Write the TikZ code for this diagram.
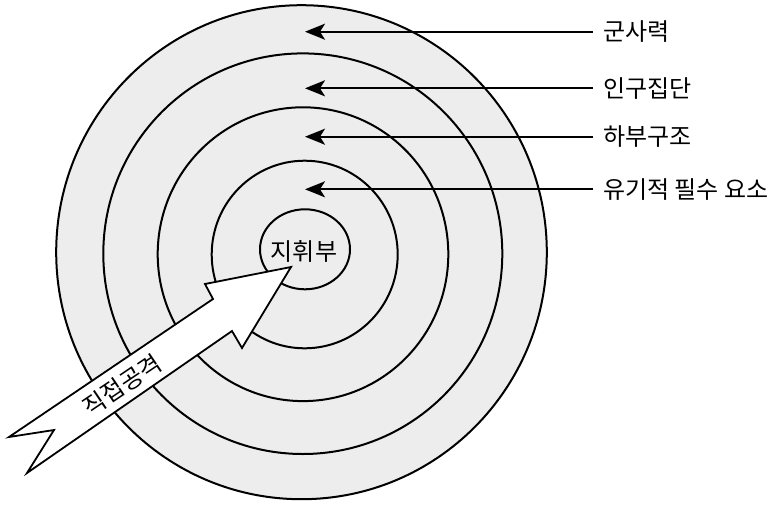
\documentclass[tikz,border=0pt]{standalone}
\usepackage{fontspec}
\setmainfont{Noto Sans CJK KR}
\usetikzlibrary{arrows.meta}
\begin{document}
\begin{tikzpicture}[x=1pt,y=-1pt,
  ring/.style={draw=black,line width=2pt},
  lab/.style={anchor=west,inner sep=0pt,font=\fontsize{24}{28}\selectfont},
  pointer/.style={line width=2pt,-{Stealth[length=20pt,width=16pt,inset=5pt]}},
  bigarrow/.style={draw=black,line width=1.8pt,fill=white,line join=miter},
  ]
\useasboundingbox (0,0) rectangle (779,504);
% target rings
\fill[gray!14] (301.5,252.2) ellipse[x radius=245.3,y radius=247];
\draw[ring] (301.5,252.2) ellipse[x radius=245.3,y radius=247];
\draw[ring] (302.8,253.7) ellipse[x radius=199.5,y radius=200.3];
\draw[ring] (303,254.2) ellipse[x radius=145.3,y radius=146.9];
\draw[ring] (304.7,254.5) ellipse[x radius=93,y radius=93.8];
\draw[ring] (305,249.3) ellipse[x radius=45,y radius=40];
% labels and pointers
\node[lab] (l1) at (603,31.7) {군사력};
\node[lab] (l2) at (603,88.3) {인구집단};
\node[lab] (l3) at (603,136.7) {하부구조};
\node[lab] (l4) at (603,189.3) {유기적 필수 요소};
\coordinate (t1) at (305,31.7);
\coordinate (t2) at (305,88.3);
\coordinate (t3) at (305,136.7);
\coordinate (t4) at (305,189.3);
\draw[pointer] ([xshift=-10pt]l1.west) -- (t1);
\draw[pointer] ([xshift=-10pt]l2.west) -- (t2);
\draw[pointer] ([xshift=-10pt]l3.west) -- (t3);
\draw[pointer] ([xshift=-10pt]l4.west) -- (t4);
% direct attack arrow
\draw[bigarrow] (291,267) -- (205,284) -- (213,299) -- (9,437) -- (54,430) -- (27,473) -- (232,331) -- (242,348) -- cycle;
\node[font=\fontsize{24}{28}\selectfont,inner sep=0pt,rotate=34] (da) at (122,385) {직접공격};
\node[font=\fontsize{24}{28}\selectfont,inner sep=0pt] (hq) at (304,251) {지휘부};
\end{tikzpicture}
\end{document}
